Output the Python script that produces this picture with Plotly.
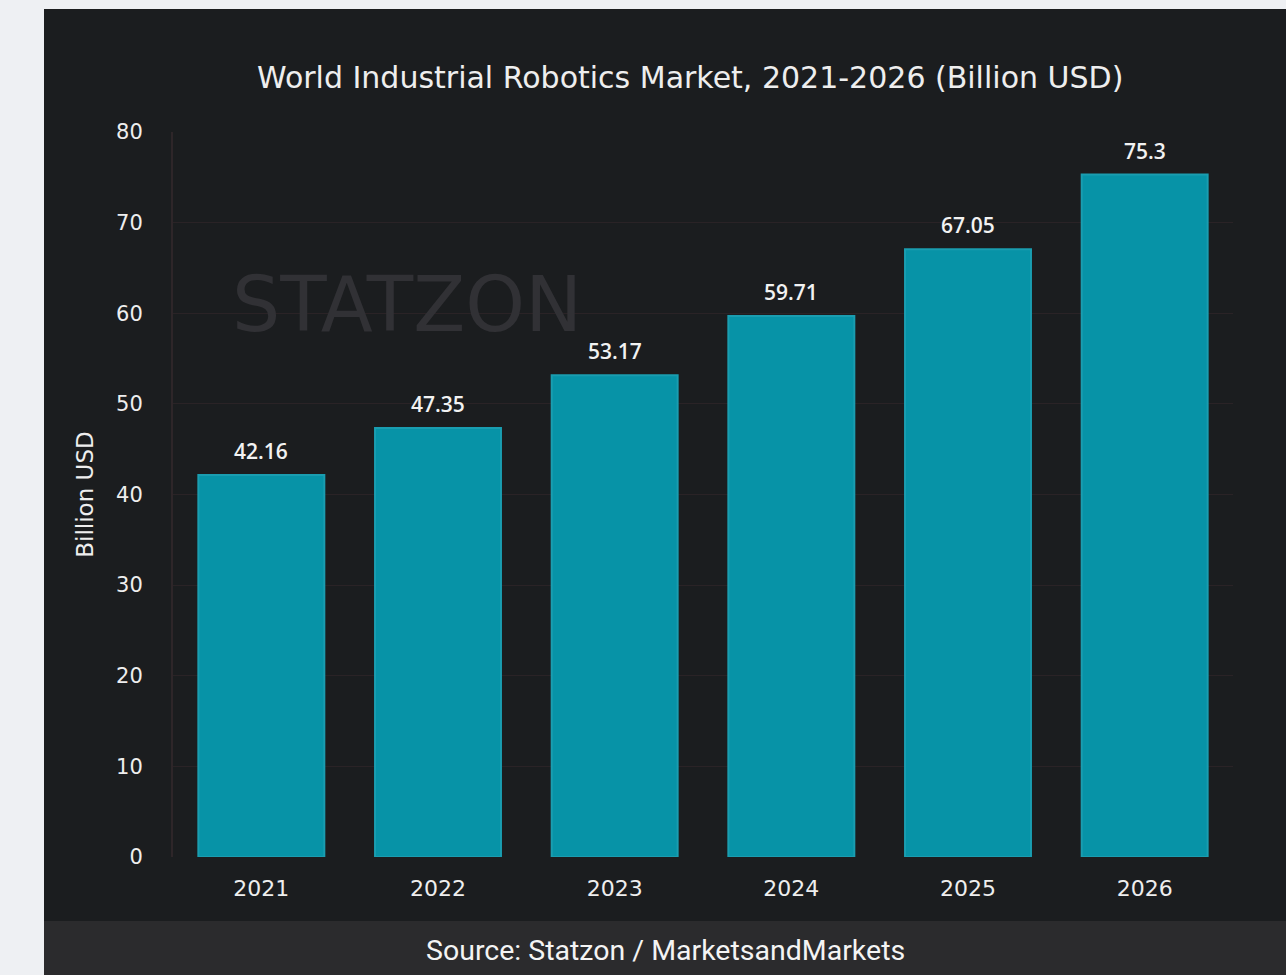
import plotly.graph_objects as go

# Market size by year (billion USD)
years = ["2021", "2022", "2023", "2024", "2025", "2026"]
market_size = [42.16, 47.35, 53.17, 59.71, 67.05, 75.3]
value_labels = ["42.16", "47.35", "53.17", "59.71", "67.05", "75.3"]
y_ticks = [0, 10, 20, 30, 40, 50, 60, 70, 80]

W, H = 1286, 975
# plot area in pixels
PL, PR, PT, PB = 173, 1233, 132, 857


def px_x(x):
    return (x - PL) / (PR - PL)


def px_y(y):
    return (PB - y) / (PB - PT)


fig = go.Figure()
fig.add_trace(go.Bar(
    x=years,
    y=market_size,
    marker=dict(color="#0793a7", line=dict(color="#1a9db0", width=2)),
    hoverinfo="skip",
))

shapes = [
    # dark panel
    dict(type="rect", xref="paper", yref="paper", layer="below",
         x0=px_x(44), x1=px_x(1290), y0=px_y(921), y1=px_y(9),
         fillcolor="#1b1d1f", line=dict(width=0)),
    # footer band
    dict(type="rect", xref="paper", yref="paper", layer="below",
         x0=px_x(44), x1=px_x(1290), y0=px_y(980), y1=px_y(921),
         fillcolor="#2b2b2d", line=dict(width=0)),
]

annotations = [
    dict(text="World Industrial Robotics Market, 2021-2026 (Billion USD)",
         xref="paper", yref="paper", x=px_x(690), y=px_y(77),
         xanchor="center", yanchor="middle", showarrow=False,
         font=dict(family="DejaVu Sans", size=30, color="#eeeeee")),
    dict(text="STATZON", xref="paper", yref="paper", x=px_x(407), y=px_y(304),
         xanchor="center", yanchor="middle", showarrow=False,
         font=dict(family="DejaVu Sans", size=76, color="#313135")),
    dict(text="Source: Statzon / MarketsandMarkets",
         xref="paper", yref="paper", x=px_x(665), y=px_y(950),
         xanchor="center", yanchor="middle", showarrow=False,
         font=dict(family="Roboto", size=28.5, color="#f4f4f4")),
]

# value labels above each bar (category index positions)
for i, (v, lbl) in enumerate(zip(market_size, value_labels)):
    annotations.append(dict(
        text=lbl, x=i, y=v, xref="x", yref="y",
        xanchor="center", yanchor="bottom", yshift=8, showarrow=False,
        font=dict(family="Open Sans", size=21, color="#f2f2f2", weight=600),
    ))

fig.update_layout(
    width=W, height=H,
    margin=dict(l=PL, r=W - PR, t=PT, b=H - PB, pad=0),
    paper_bgcolor="#eef0f3",
    plot_bgcolor="rgba(0,0,0,0)",
    bargap=0.287,
    showlegend=False,
    shapes=shapes,
    annotations=annotations,
    xaxis=dict(
        type="category", range=[-0.5, len(years) - 0.5],
        showgrid=False, showline=False, zeroline=False,
        ticks="", ticklabelstandoff=16,
        tickfont=dict(family="DejaVu Sans", size=22, color="#eeeeee"),
    ),
    yaxis=dict(
        range=[0, 80], tickvals=y_ticks,
        showgrid=True, gridcolor="#2a2326", gridwidth=1,
        showline=True, linecolor="#2e2629", linewidth=2,
        zeroline=False, ticks="", ticklabelstandoff=24,
        tickfont=dict(family="DejaVu Sans", size=21, color="#eeeeee"),
        title=dict(text="Billion USD", standoff=16,
                   font=dict(family="DejaVu Sans", size=23, color="#eeeeee")),
    ),
)

fig.write_html("out.html")
